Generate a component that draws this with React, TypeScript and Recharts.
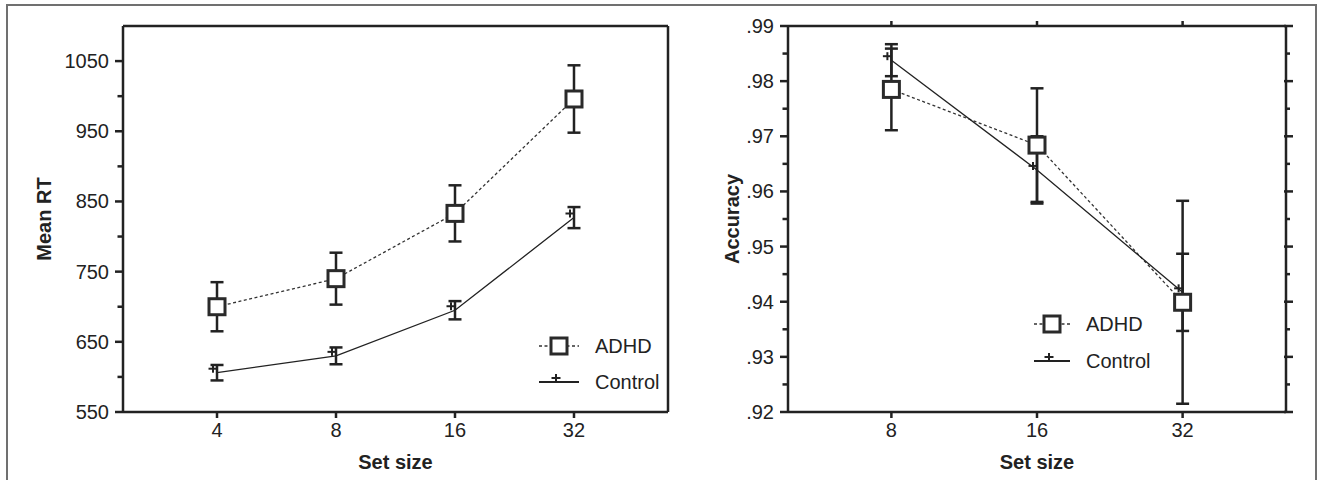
import React from 'react';
import { LineChart, Line, XAxis, YAxis, ErrorBar, Label } from 'recharts';

// Panel A: mean RT by set size
const RT_SET_SIZES = ['4', '8', '16', '32'];
const RT_ADHD = [700, 740, 833, 996];
const RT_ADHD_ERR = [35, 37, 40, 48];
const RT_CONTROL = [606, 630, 695, 827];
const RT_CONTROL_ERR = [11, 12, 13, 15];
const RT_TICKS = [550, 600, 650, 700, 750, 800, 850, 900, 950, 1000, 1050];
const RT_MAJOR = [550, 650, 750, 850, 950, 1050];

// Panel B: accuracy by set size
const ACC_SET_SIZES = ['8', '16', '32'];
const ACC_ADHD = [0.9785, 0.9684, 0.9399];
const ACC_ADHD_ERR = [0.0074, 0.0103, 0.0184];
const ACC_CONTROL = [0.9838, 0.9639, 0.9417];
const ACC_CONTROL_ERR = [0.0029, 0.0061, 0.007];
const ACC_TICKS = [0.92, 0.925, 0.93, 0.935, 0.94, 0.945, 0.95, 0.955, 0.96, 0.965, 0.97, 0.975, 0.98, 0.985, 0.99];
const ACC_MAJOR = [0.92, 0.93, 0.94, 0.95, 0.96, 0.97, 0.98, 0.99];

const FONT = '"Liberation Sans", Arial, Helvetica, sans-serif';
const INK = '#222';
const AXIS = { stroke: INK, strokeWidth: 2.5 };

// accuracy panel frame
const ACC_W = 640;
const ACC_H = 480;
const ACC_MARGIN = { top: 25, right: 24, bottom: 0, left: 28 };
const ACC_YAXIS_W = 80;
const ACC_RAXIS_W = 10;
const ACC_XAXIS_H = 68;
const ACC_TOPAXIS_H = 1;
const ACC_PLOT_W = ACC_W - ACC_MARGIN.left - ACC_MARGIN.right - ACC_YAXIS_W - ACC_RAXIS_W;
const ACC_PLOT_H = ACC_H - ACC_MARGIN.top - ACC_MARGIN.bottom - ACC_XAXIS_H - ACC_TOPAXIS_H;

const rtData = RT_SET_SIZES.map((_, i) => ({
  x: i,
  adhd: RT_ADHD[i],
  adhdErr: RT_ADHD_ERR[i],
  control: RT_CONTROL[i],
  controlErr: RT_CONTROL_ERR[i],
}));

const accData = ACC_SET_SIZES.map((_, i) => ({
  x: i,
  adhd: ACC_ADHD[i],
  adhdErr: ACC_ADHD_ERR[i],
  control: ACC_CONTROL[i],
  controlErr: ACC_CONTROL_ERR[i],
}));

const SquareDot = (props: any) => {
  const { cx, cy, index } = props;
  if (cx == null || cy == null) return <g key={`sq-${index}`} />;
  return (
    <rect key={`sq-${index}`} x={cx - 8} y={cy - 8} width={16} height={16} fill="#fff" stroke="#2a2a2a" strokeWidth={3} />
  );
};

const PlusDot = (props: any) => {
  const { cx, cy, index } = props;
  if (cx == null || cy == null) return <g key={`pl-${index}`} />;
  const px = cx - 4;
  const py = cy - 4;
  return (
    <g key={`pl-${index}`}>
      <line x1={px - 4.5} y1={py} x2={px + 4.5} y2={py} stroke={INK} strokeWidth={2} />
      <line x1={px} y1={py - 4} x2={px} y2={py + 4} stroke={INK} strokeWidth={2} />
    </g>
  );
};

// y ticks: long labelled ticks at majors, short ones between; optional mirrored ticks on the right frame
const makeYTick = (majors: number[], fmt: (v: number) => string, mirrorDist: number) => (props: any) => {
  const { x, y, payload, index } = props;
  const major = majors.includes(payload.value);
  const rx = x + mirrorDist;
  return (
    <g key={`t-${index}`}>
      <line x1={x - (major ? 8 : 5.5)} y1={y} x2={x} y2={y} stroke={INK} strokeWidth={2.5} />
      {major && (
        <text x={x - 14} y={y} textAnchor="end" dominantBaseline="central" fontSize={20} fill={INK} fontFamily={FONT}>
          {fmt(payload.value)}
        </text>
      )}
      {mirrorDist > 0 && (
        <line x1={rx - (major ? 2 : 0)} y1={y} x2={rx + (major ? 7 : 4)} y2={y} stroke={INK} strokeWidth={2.5} />
      )}
    </g>
  );
};

// x ticks: tick down with label, optional tick up on the top frame
const makeXTick = (labels: string[], topDist: number) => (props: any) => {
  const { x, y, payload, index } = props;
  return (
    <g key={`xt-${index}`}>
      <line x1={x} y1={y} x2={x} y2={y + 6} stroke={INK} strokeWidth={2.5} />
      <text x={x} y={y + 18} textAnchor="middle" dominantBaseline="central" fontSize={20} fill={INK} fontFamily={FONT}>
        {labels[payload.value]}
      </text>
      {topDist > 0 && <line x1={x} y1={y - topDist} x2={x} y2={y - topDist - 5} stroke={INK} strokeWidth={2.5} />}
    </g>
  );
};

const rtFmt = (v: number) => String(v);
const accFmt = (v: number) => '.' + Math.round(v * 100);

const XTitle = (props: any) => {
  const vb = props.viewBox || {};
  return (
    <text x={vb.x + vb.width / 2} y={vb.y + 50} textAnchor="middle" dominantBaseline="central" fontSize={20} fontWeight="bold" fill={INK} fontFamily={FONT}>
      Set size
    </text>
  );
};

const YTitle = (props: any) => {
  const vb = props.viewBox || {};
  const cx = vb.x + props.dx;
  const cy = vb.y + vb.height / 2;
  return (
    <text x={cx} y={cy} transform={`rotate(-90 ${cx} ${cy})`} textAnchor="middle" dominantBaseline="central" fontSize={20} fontWeight="bold" fill={INK} fontFamily={FONT}>
      {props.text}
    </text>
  );
};

function LegendBox({ left, top, rowH, swatchW }: { left: number; top: number; rowH: number; swatchW: number }) {
  const mid = swatchW / 2;
  return (
    <div style={{ position: 'absolute', left, top, fontFamily: FONT, fontSize: 20, color: INK, lineHeight: 1 }}>
      <div style={{ display: 'flex', alignItems: 'center', height: rowH }}>
        <svg width={swatchW} height={24} style={{ display: 'block' }}>
          <line x1={0} y1={12} x2={swatchW} y2={12} stroke="#333" strokeWidth={1.3} strokeDasharray="3 2.5" />
          <rect x={mid - 8} y={4} width={16} height={16} fill="#fff" stroke="#2a2a2a" strokeWidth={3} />
        </svg>
        <span style={{ marginLeft: 16 }}>ADHD</span>
      </div>
      <div style={{ display: 'flex', alignItems: 'center', height: rowH }}>
        <svg width={swatchW} height={24} style={{ display: 'block' }}>
          <line x1={0} y1={12} x2={swatchW} y2={12} stroke={INK} strokeWidth={2} />
          <line x1={mid - 7.5} y1={8} x2={mid + 1.5} y2={8} stroke={INK} strokeWidth={2} />
          <line x1={mid - 3} y1={4} x2={mid - 3} y2={12} stroke={INK} strokeWidth={2} />
        </svg>
        <span style={{ marginLeft: 16 }}>Control</span>
      </div>
    </div>
  );
}

export default function App() {
  return (
    <div style={{ position: 'absolute', left: 0, top: 0, width: 1320, height: 480, overflow: 'hidden', background: '#fff' }}>
      <div style={{ position: 'absolute', left: 6, top: 4, width: 1311, height: 520, border: '2px solid #707070', boxSizing: 'border-box' }} />

      {/* Mean RT */}
      <div style={{ position: 'absolute', left: 0, top: 0 }}>
        <LineChart width={690} height={480} data={rtData} margin={{ top: 25, right: 21, bottom: 0, left: 43 }} style={{ fontFamily: FONT }}>
          <XAxis
            dataKey="x"
            type="number"
            domain={[-0.79, 3.79]}
            ticks={[0, 1, 2, 3]}
            interval={0}
            height={68}
            axisLine={AXIS}
            tickLine={false}
            tickSize={0}
            tickMargin={0}
            tick={makeXTick(RT_SET_SIZES, 0)}
          >
            <Label content={<XTitle />} />
          </XAxis>
          <XAxis xAxisId="top" orientation="top" type="number" domain={[-0.79, 3.79]} height={1} tick={false} tickLine={false} axisLine={AXIS} />
          <YAxis
            domain={[550, 1100]}
            ticks={RT_TICKS}
            interval={0}
            width={80}
            axisLine={AXIS}
            tickLine={false}
            tickSize={0}
            tickMargin={0}
            tick={makeYTick(RT_MAJOR, rtFmt, 0)}
            allowDataOverflow
          >
            <Label content={<YTitle text="Mean RT" dx={1} />} />
          </YAxis>
          <YAxis yAxisId="r" orientation="right" domain={[550, 1100]} width={1} tick={false} tickLine={false} axisLine={AXIS} />
          <Line dataKey="adhd" stroke="#333" strokeWidth={1.3} strokeDasharray="3 2.5" dot={SquareDot} activeDot={false} isAnimationActive={false}>
            <ErrorBar dataKey="adhdErr" width={6.5} stroke={INK} strokeWidth={2.5} />
          </Line>
          <Line dataKey="control" stroke={INK} strokeWidth={1.3} dot={PlusDot} activeDot={false} isAnimationActive={false}>
            <ErrorBar dataKey="controlErr" width={6.5} stroke={INK} strokeWidth={2.5} />
          </Line>
        </LineChart>
      </div>
      <LegendBox left={539} top={328} rowH={36} swatchW={40} />

      {/* Accuracy */}
      <div style={{ position: 'absolute', left: 680, top: 0 }}>
        <LineChart width={ACC_W} height={ACC_H} data={accData} margin={ACC_MARGIN} style={{ fontFamily: FONT }}>
          <XAxis
            dataKey="x"
            type="number"
            domain={[-0.71, 2.71]}
            ticks={[0, 1, 2]}
            interval={0}
            height={ACC_XAXIS_H}
            axisLine={AXIS}
            tickLine={false}
            tickSize={0}
            tickMargin={0}
            tick={makeXTick(ACC_SET_SIZES, ACC_PLOT_H)}
          >
            <Label content={<XTitle />} />
          </XAxis>
          <XAxis xAxisId="top" orientation="top" type="number" domain={[-0.71, 2.71]} height={ACC_TOPAXIS_H} tick={false} tickLine={false} axisLine={AXIS} />
          <YAxis
            domain={[0.92, 0.99]}
            ticks={ACC_TICKS}
            interval={0}
            width={ACC_YAXIS_W}
            axisLine={AXIS}
            tickLine={false}
            tickSize={0}
            tickMargin={0}
            tick={makeYTick(ACC_MAJOR, accFmt, ACC_PLOT_W)}
            allowDataOverflow
          >
            <Label content={<YTitle text="Accuracy" dx={23.5} />} />
          </YAxis>
          <YAxis yAxisId="r" orientation="right" domain={[0.92, 0.99]} width={ACC_RAXIS_W} tick={false} tickLine={false} axisLine={AXIS} />
          <Line dataKey="adhd" stroke="#333" strokeWidth={1.3} strokeDasharray="3 2.5" dot={SquareDot} activeDot={false} isAnimationActive={false}>
            <ErrorBar dataKey="adhdErr" width={6.5} stroke={INK} strokeWidth={2.5} />
          </Line>
          <Line dataKey="control" stroke={INK} strokeWidth={1.3} dot={PlusDot} activeDot={false} isAnimationActive={false}>
            <ErrorBar dataKey="controlErr" width={6.5} stroke={INK} strokeWidth={2.5} />
          </Line>
        </LineChart>
      </div>
      <LegendBox left={1034} top={305} rowH={37} swatchW={36} />
    </div>
  );
}
